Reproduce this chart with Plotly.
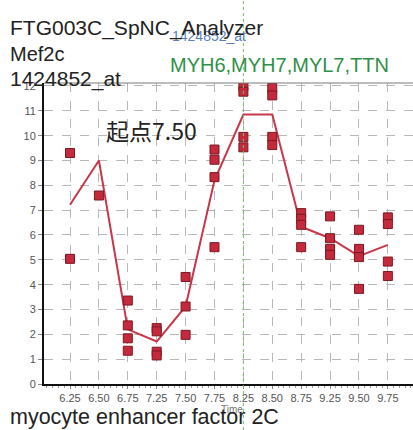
import plotly.graph_objects as go

# Time points (categorical labels on the x axis)
time_labels = ["6.25", "6.50", "6.75", "7.25", "7.50", "7.75",
               "8.25", "8.50", "8.75", "9.25", "9.50", "9.75"]

# Mean expression per time point (line)
mean_expr = [7.22, 9.00, 2.20, 1.71, 3.12, 8.20,
             10.85, 10.85, 6.33, 5.87, 5.15, 5.60]

# Individual replicate measurements (scatter)
point_time = ["6.25", "6.25",
              "6.50",
              "6.75", "6.75", "6.75", "6.75",
              "7.25", "7.25", "7.25", "7.25",
              "7.50", "7.50", "7.50",
              "7.75", "7.75", "7.75", "7.75",
              "8.25", "8.25", "8.25", "8.25",
              "8.50", "8.50", "8.50", "8.50",
              "8.75", "8.75", "8.75", "8.75",
              "9.25", "9.25", "9.25", "9.25",
              "9.50", "9.50", "9.50", "9.50",
              "9.75", "9.75", "9.75", "9.75"]
point_expr = [9.30, 5.04,
              7.59,
              3.36, 2.36, 1.84, 1.34,
              2.25, 2.12, 1.30, 1.15,
              4.31, 3.12, 1.98,
              9.44, 9.03, 8.33, 5.51,
              12.00, 11.77, 9.95, 9.53,
              11.92, 11.62, 9.95, 9.62,
              6.88, 6.65, 6.41, 5.51,
              6.75, 5.87, 5.44, 5.20,
              6.21, 5.44, 5.11, 3.83,
              6.71, 6.44, 4.93, 4.35]

y_ticks = list(range(0, 13))
marker_time = "8.25"

idx = {t: i for i, t in enumerate(time_labels)}

W, H = 413, 430
L, R, T, B = 44, 0, 83, 46
pw, ph = W - L - R, H - T - B

def px(xp):
    return (xp - L) / pw

def py(yp):
    return (H - B - yp) / ph

fig = go.Figure()

fig.add_trace(go.Scatter(
    x=[idx[t] for t in time_labels], y=mean_expr,
    mode="lines", line=dict(color="#c9364a", width=2),
    hoverinfo="skip", showlegend=False,
))
fig.add_trace(go.Scatter(
    x=[idx[t] for t in point_time], y=point_expr,
    mode="markers",
    marker=dict(symbol="square", size=9, color="#c52a3c",
                line=dict(color="#7a1822", width=1)),
    showlegend=False, cliponaxis=True,
))

tick_font = dict(family="Liberation Sans Narrow, Arial Narrow, Liberation Sans, sans-serif",
                 size=11, color="#555555")

fig.update_xaxes(
    tickmode="array", tickvals=list(range(len(time_labels))), ticktext=time_labels,
    range=[-0.9, 11.87], showgrid=True, gridcolor="#b8b8b8", griddash="dash", gridwidth=1,
    zeroline=False, showline=True, linecolor="#111111", linewidth=2,
    ticks="outside", ticklen=3, tickcolor="#888888", tickfont=tick_font,
    minor=dict(dtick=0.2, ticks="outside", ticklen=2, tickcolor="#999999", showgrid=False),
)
fig.update_yaxes(
    tickmode="array", tickvals=y_ticks,
    range=[0, 12.12], showgrid=True, gridcolor="#b8b8b8", griddash="dash", gridwidth=1,
    zeroline=False, showline=True, linecolor="#111111", linewidth=2,
    ticks="outside", ticklen=4, tickcolor="#888888", tickfont=tick_font,
)

shapes = [
    # top border of the plotting area
    dict(type="line", xref="paper", yref="paper", x0=0, x1=1, y0=1, y1=1,
         line=dict(color="#7a7a7a", width=1)),
    # marker line at the selected time point
    dict(type="line", xref="x", yref="paper", x0=idx[marker_time], x1=idx[marker_time],
         y0=py(H), y1=py(0), line=dict(color="#74c062", width=1, dash="dot")),
]

head_font = "Liberation Sans, Arial, sans-serif"
annotations = [
    dict(text="1424852_at", x=px(170), y=py(36), xanchor="left", yanchor="middle",
         font=dict(family=head_font, size=14, color="#5b7fb5")),
    dict(text="FTG003C_SpNC_Analyzer", x=px(8), y=py(28), xanchor="left", yanchor="middle",
         font=dict(family=head_font, size=21, color="#222222")),
    dict(text="Mef2c", x=px(8), y=py(54), xanchor="left", yanchor="middle",
         font=dict(family=head_font, size=20, color="#222222")),
    dict(text="1424852_at", x=px(8), y=py(79), xanchor="left", yanchor="middle",
         font=dict(family=head_font, size=21, color="#222222")),
    dict(text="MYH6,MYH7,MYL7,TTN", x=px(168), y=py(65), xanchor="left", yanchor="middle",
         font=dict(family=head_font, size=20, color="#2f9048")),
    dict(text="起点7.50", x=px(104), y=py(130), xanchor="left", yanchor="middle",
         font=dict(family="Noto Sans CJK SC, Liberation Sans, sans-serif", size=23, color="#222222")),
    dict(text="Time", x=px(232), y=py(410), xanchor="center", yanchor="middle",
         font=dict(family=head_font, size=10, color="#777777")),
    dict(text="myocyte enhancer factor 2C", x=px(8), y=py(417), xanchor="left", yanchor="middle",
         font=dict(family=head_font, size=21.5, color="#222222")),
]
for a in annotations:
    a.update(xref="paper", yref="paper", showarrow=False)

fig.update_layout(
    width=W, height=H,
    margin=dict(l=L, r=R, t=T, b=B),
    paper_bgcolor="white", plot_bgcolor="white",
    shapes=shapes, annotations=annotations,
    showlegend=False,
)

fig.write_html("out.html")
